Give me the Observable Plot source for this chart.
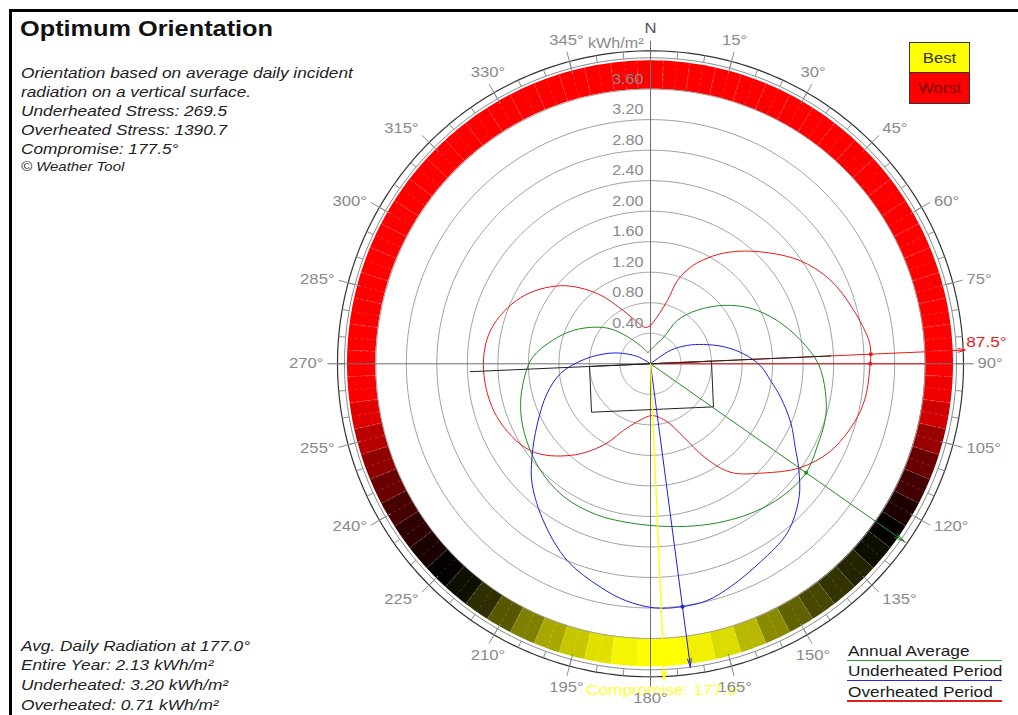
<!DOCTYPE html>
<html><head><meta charset="utf-8">
<script src="https://cdn.jsdelivr.net/npm/d3@7"></script>
<script src="https://cdn.jsdelivr.net/npm/@observablehq/plot@0.6"></script>
<style>
body{margin:0;background:#fff;font-family:"Liberation Sans",Arial,sans-serif;}
#wrap{position:relative;width:1018px;height:715px;overflow:hidden;background:#fff;}
#frame{position:absolute;left:9px;top:9px;width:1100px;height:800px;border:3px solid #000;box-sizing:border-box;}
#chart{position:absolute;left:0;top:0;}
.sx{position:absolute;transform:scaleX(1.15);transform-origin:0 0;white-space:nowrap;color:#222;}
.box{position:absolute;left:909px;width:61px;border:1px solid #333;box-sizing:border-box;text-align:center;font-size:14.5px;}
.box span{display:inline-block;transform:scaleX(1.15);}
.ul{position:absolute;left:847px;width:155px;height:1.5px;}
</style></head>
<body>
<div id="wrap">
  <div id="chart"></div>
  <div id="frame"></div>
  <div class="sx" id="title" style="left:20px;top:18px;font-size:22px;line-height:22px;font-weight:bold;color:#111;"></div>
  <div class="sx" id="desc" style="left:21px;top:62.6px;font-size:15px;line-height:19px;font-style:italic;"></div>
  <div class="sx" id="credit" style="left:21px;top:157px;font-size:13px;line-height:19px;font-style:italic;"></div>
  <div class="sx" id="avg" style="left:21px;top:635.6px;font-size:15px;line-height:19.7px;font-style:italic;"></div>
  <div class="box" id="best" style="top:41.7px;height:31.6px;line-height:30px;background:#ffff00;color:#333;"></div>
  <div class="box" id="worst" style="top:72.3px;height:31.5px;line-height:30px;background:#ff0000;color:#7a0000;"></div>
  <div id="legend"></div>
</div>
<script>
// ---------- data ----------
const titleText = "Optimum Orientation";
const descLines = ["Orientation based on average daily incident", "radiation on a vertical surface.", "Underheated Stress: 269.5", "Overheated Stress: 1390.7", "Compromise: 177.5°"];
const creditText = "© Weather Tool";
const avgLines = ["Avg. Daily Radiation at 177.0°", "Entire Year: 2.13 kWh/m²", "Underheated: 3.20 kWh/m²", "Overheated: 0.71 kWh/m²"];
const legendNames = ["Annual Average", "Underheated Period", "Overheated Period"];
const legendColors = ["#2f9a2f", "#2828d0", "#e02020"];
const scoreNames = ["Best", "Worst"];

const angleAz = [0, 15, 30, 45, 60, 75, 90, 105, 120, 135, 150, 165, 180, 195, 210, 225, 240, 255, 270, 285, 300, 315, 330, 345];
const angleLabels = ["N", "15°", "30°", "45°", "60°", "75°", "90°", "105°", "120°", "135°", "150°", "165°", "180°", "195°", "210°", "225°", "240°", "255°", "270°", "285°", "300°", "315°", "330°", "345°"];
const gridValues = [0.4, 0.8, 1.2, 1.6, 2.0, 2.4, 2.8, 3.2, 3.6];
const gridLabels = ["0.40", "0.80", "1.20", "1.60", "2.00", "2.40", "2.80", "3.20", "3.60"];
const unitLabel = "kWh/m²";

// overheated period (red), kWh/m² by azimuth
const overheatedAz = [0, 8, 15, 18, 22.5, 27, 33.5, 42.5, 55, 65, 75, 84, 87.5, 90, 99, 106, 116, 125, 134, 143.5, 150, 155.5, 164, 178, 193, 202, 210, 221, 234, 251, 268, 282, 297, 311, 323, 333, 344, 352];
const overheatedKwh = [0.50, 0.62, 0.86, 1.15, 1.37, 1.53, 1.74, 2.00, 2.37, 2.60, 2.75, 2.88, 2.89, 2.88, 2.85, 2.78, 2.62, 2.38, 2.06, 1.77, 1.41, 1.06, 0.79, 0.68, 0.78, 0.94, 1.23, 1.59, 1.94, 2.13, 2.19, 2.14, 1.91, 1.56, 1.15, 0.78, 0.55, 0.48];
// annual average (green)
const annualAz = [347, 18, 26.5, 31.7, 41, 51.5, 61, 71, 81, 90, 99, 107, 116.6, 125, 135, 145, 155, 165, 177, 190, 200, 213, 227, 242, 253, 264, 273, 283.5, 293.5, 303, 311, 319.5, 331];
const annualKwh = [0.15, 0.28, 0.39, 0.67, 0.93, 1.23, 1.50, 1.75, 1.99, 2.20, 2.32, 2.40, 2.44, 2.49, 2.45, 2.37, 2.28, 2.20, 2.13, 2.10, 2.10, 2.08, 2.00, 1.88, 1.78, 1.66, 1.55, 1.32, 1.10, 0.88, 0.70, 0.47, 0.27];
// underheated period (blue)
const underheatedAz = [0, 56, 63.5, 70, 77, 84, 91, 98, 104.4, 113, 120, 125.3, 132, 141, 151, 160, 166.5, 172.5, 179, 186, 192.6, 203, 214, 224.6, 231.7, 242, 254, 263.7, 271, 279, 288, 299];
const underheatedKwh = [0, 0.31, 0.54, 0.74, 0.99, 1.23, 1.44, 1.59, 1.76, 2.00, 2.19, 2.38, 2.62, 2.85, 2.97, 3.10, 3.19, 3.21, 3.20, 3.12, 3.00, 2.80, 2.50, 2.21, 1.98, 1.68, 1.41, 1.19, 0.96, 0.71, 0.46, 0.20];

// orientation score band (0 = worst, 1 = best), 5° steps from 0°
const bandAz = [0,5,10,15,20,25,30,35,40,45,50,55,60,65,70,75,80,85,90,95,100,105,110,115,120,125,130,135,140,145,150,155,160,165,170,175,180,185,190,195,200,205,210,215,220,225,230,235,240,245,250,255,260,265,270,275,280,285,290,295,300,305,310,315,320,325,330,335,340,345,350,355];
const bandScore = [0,0,0,0,0,0,0,0,0,0,0,0,0,0,0,0,0,0,0,0.03,0.09,0.20,0.29,0.37,0.44,0.49,0.53,0.57,0.60,0.64,0.69,0.77,0.86,0.93,0.97,1,1,0.98,0.94,0.89,0.83,0.75,0.67,0.59,0.53,0.49,0.45,0.41,0.36,0.29,0.22,0.14,0.06,0.01,0,0,0,0,0,0,0,0,0,0,0,0,0,0,0,0,0,0];

const bestOverheated = 87.5, bestOverheatedLabel = "87.5°";
const bestAnnual = 125;
const bestUnderheated = 172.5;
const compromiseAz = 177.5, compromiseLabel = "Compromise: 177.5°";
// building footprint (kWh-scale units along / across the compromise axis)
const buildingU = [-0.80, 0.80, 0.80, -0.80];
const buildingV = [0, 0, 0.60, 0.60];

// ---------- layout ----------
const W = 1018, H = 715, CX = 650, CY = 363.3, PX = 76.3;
const rad = d => d * Math.PI / 180;
const pol = (az, r) => ({x: r * Math.sin(rad(az)), y: r * Math.cos(rad(az))});
const R_BAND_IN = 3.6, R_BAND_OUT = 303 / PX, R_RING1 = 306 / PX, R_RING2 = 313 / PX, R_TICK_IN = 300 / PX, R_TICK_OUT = 323 / PX;
const LABEL_FS = 14.5, SX = 1.15;

// band polygons
const bandRows = [];
bandAz.forEach((az, i) => {
  for (let k = 0; k <= 5; k++) {
    const a = az - 2.5 + k;
    const pi = pol(a, R_BAND_IN), po = pol(a, R_BAND_OUT);
    bandRows.push({seg: i, score: bandScore[i], x1: pi.x, y1: pi.y, x2: po.x, y2: po.y});
  }
});
const sepRows = d3.range(0, 360, 2.5).map(a => { const p = pol(a, R_BAND_IN + 0.02), q = pol(a, R_BAND_OUT - 0.02); return {x1: p.x, y1: p.y, x2: q.x, y2: q.y}; });
const circleRows = rs => rs.flatMap(r => d3.range(0, 361, 1).map(a => ({r, ...pol(a, r)})));
const seg = (a, r1, r2) => { const p = pol(a, r1), q = pol(a, r2); return {x1: p.x, y1: p.y, x2: q.x, y2: q.y}; };
const curvePts = (az, v, close) => { const pts = az.map((a, i) => pol(a, v[i])); if (close) pts.push(pts[0]); return pts; };
const valAt = (az, v, a) => v[az.indexOf(a)];
const clamp01 = t => Math.max(0, Math.min(1, t));

// angle labels: text box touches a circle of radius 325px
const labelRows = angleAz.map((a, i) => {
  const s = Math.sin(rad(a)), c = Math.cos(rad(a));
  const lab = angleLabels[i];
  const w = lab === "N" ? 12 : ((lab.length - 1) * 0.556 + 0.4) * LABEL_FS * SX;
  const ex = Math.sign(s) * (w / 2 + 2) * clamp01((Math.abs(s) - 0.5) / 0.207);
  const ey = Math.sign(c) * 10 * clamp01((Math.abs(c) - 0.5) / 0.366);
  const p = pol(a, 325 / PX);
  return {label: lab, north: a === 0, x: p.x + ex / PX, y: p.y + ey / PX};
});
const gridLabelRows = gridValues.map((v, i) => ({x: 0, y: v, label: gridLabels[i]}));

const bRows = buildingU.map((u, i) => {
  const a = pol(compromiseAz - 90, u), b = pol(compromiseAz, buildingV[i]);
  return {x: a.x + b.x, y: a.y + b.y};
});
bRows.push(bRows[0]);

const arrow = (a, r) => { const p = pol(a, r); return {x1: 0, y1: 0, x2: p.x, y2: p.y}; };
const axisLine = (a, r) => { const p = pol(a + 180, r), q = pol(a, r); return {x1: p.x, y1: p.y, x2: q.x, y2: q.y}; };

const chart = Plot.plot({
  width: W, height: H, margin: 0,
  x: {domain: [-CX / PX, (W - CX) / PX], axis: null},
  y: {domain: [-(H - CY) / PX, CY / PX], axis: null},
  color: {type: "linear", domain: [0, 0.5, 1], range: ["#ff0000", "#000000", "#ffff00"], interpolate: "rgb"},
  style: {fontFamily: "Liberation Sans, Arial, sans-serif", background: "transparent"},
  marks: [
    Plot.area(bandRows, {x1: "x1", y1: "y1", x2: "x2", y2: "y2", z: "seg", fill: "score", curve: "linear"}),
    Plot.link(sepRows, {x1: "x1", y1: "y1", x2: "x2", y2: "y2", stroke: "#ffffff", strokeOpacity: 0.22, strokeDasharray: "3,3", strokeWidth: 0.8}),
    Plot.line(circleRows(gridValues), {x: "x", y: "y", z: "r", stroke: "#a0a0a0", strokeWidth: 1}),
    Plot.line(circleRows([R_RING1]), {x: "x", y: "y", z: "r", stroke: "#8a8a8a", strokeWidth: 1}),
    Plot.line(circleRows([R_RING2]), {x: "x", y: "y", z: "r", stroke: "#333", strokeWidth: 1.2}),
    Plot.link(d3.range(0, 360, 5).map(a => seg(a, R_RING1, R_RING2)), {x1: "x1", y1: "y1", x2: "x2", y2: "y2", stroke: "#8a8a8a", strokeWidth: 1}),
    Plot.link(angleAz.filter(a => a % 90 !== 0).map(a => seg(a, R_TICK_IN, R_TICK_OUT)), {x1: "x1", y1: "y1", x2: "x2", y2: "y2", stroke: "#8a8a8a", strokeWidth: 1}),
    Plot.link([0, 90, 180, 270].map(a => seg(a, 0, R_TICK_OUT)), {x1: "x1", y1: "y1", x2: "x2", y2: "y2", stroke: "#707070", strokeWidth: 1}),
    Plot.line(bRows, {x: "x", y: "y", stroke: "#222", strokeWidth: 1}),
    // curves
    Plot.line(curvePts(overheatedAz, overheatedKwh, true), {x: "x", y: "y", stroke: "#e81818", strokeWidth: 1, curve: "catmull-rom"}),
    Plot.line(curvePts(annualAz, annualKwh, true), {x: "x", y: "y", stroke: "#238a23", strokeWidth: 1, curve: "catmull-rom"}),
    Plot.line(curvePts(underheatedAz, underheatedKwh, true), {x: "x", y: "y", stroke: "#1f1fe0", strokeWidth: 1, curve: "catmull-rom"}),
    // orientation lines
    Plot.link([seg(90, 0, R_BAND_IN)], {x1: "x1", y1: "y1", x2: "x2", y2: "y2", stroke: "#e81818", strokeWidth: 1}),
    Plot.arrow([arrow(bestOverheated, 315 / PX)], {x1: "x1", y1: "y1", x2: "x2", y2: "y2", stroke: "#e81818", strokeWidth: 1, headLength: 11, headAngle: 30}),
    Plot.link([axisLine(bestOverheated, 2.37)], {x1: "x1", y1: "y1", x2: "x2", y2: "y2", stroke: "#222", strokeWidth: 1}),
    Plot.arrow([arrow(bestAnnual, 310 / PX)], {x1: "x1", y1: "y1", x2: "x2", y2: "y2", stroke: "#238a23", strokeWidth: 1, headLength: 16, headAngle: 25}),
    Plot.arrow([arrow(bestUnderheated, 306 / PX)], {x1: "x1", y1: "y1", x2: "x2", y2: "y2", stroke: "#1f1fe0", strokeWidth: 1, headLength: 13, headAngle: 25}),
    Plot.arrow([arrow(compromiseAz, 316 / PX)], {x1: "x1", y1: "y1", x2: "x2", y2: "y2", stroke: "#ffff00", strokeWidth: 1.3, headLength: 10, headAngle: 30}),
    Plot.dot([pol(bestOverheated, valAt(overheatedAz, overheatedKwh, bestOverheated)), pol(90, valAt(overheatedAz, overheatedKwh, 90))], {x: "x", y: "y", r: 2, fill: "#e81818"}),
    Plot.dot([pol(bestAnnual, valAt(annualAz, annualKwh, bestAnnual))], {x: "x", y: "y", r: 2, fill: "#238a23"}),
    Plot.dot([pol(bestUnderheated, valAt(underheatedAz, underheatedKwh, bestUnderheated))], {x: "x", y: "y", r: 2, fill: "#1f1fe0"}),
    // texts
    Plot.text([pol(compromiseAz, 326.7 / PX)], {x: "x", y: "y", text: () => compromiseLabel, fontSize: 15, fill: "#ffff33"}),
    Plot.text(gridLabelRows, {x: "x", y: "y", text: "label", textAnchor: "end", dx: -7, dy: -10, fontSize: 14, fill: "#8a8a8a"}),
    Plot.text([{x: 0, y: 320 / PX}], {x: "x", y: "y", text: () => unitLabel, textAnchor: "end", dx: -7, fontSize: 14, fill: "#8a8a8a"}),
    Plot.text(labelRows, {x: "x", y: "y", text: "label", fontSize: LABEL_FS, fill: d => d.north ? "#555" : "#8a8a8a"}),
    Plot.text([pol(bestOverheated, 315 / PX)], {x: "x", y: "y", text: () => bestOverheatedLabel, textAnchor: "start", dx: 1, dy: -8, fontSize: 15, fill: "#e81818"})
  ]
});
document.getElementById("chart").appendChild(chart);
chart.querySelectorAll("text").forEach(t => {
  const tr = t.getAttribute("transform");
  if (tr) t.setAttribute("transform", tr + ` scale(${SX},1)`);
});

// ---------- html texts ----------
document.getElementById("title").textContent = titleText;
document.getElementById("desc").innerHTML = descLines.join("<br>");
document.getElementById("credit").textContent = creditText;
document.getElementById("avg").innerHTML = avgLines.join("<br>");
document.getElementById("best").innerHTML = `<span>${scoreNames[0]}</span>`;
document.getElementById("worst").innerHTML = `<span>${scoreNames[1]}</span>`;
const leg = document.getElementById("legend");
legendNames.forEach((n, i) => {
  const base = 656 + i * 20.4;
  const t = document.createElement("div");
  t.className = "sx";
  t.style.cssText = `left:848px;top:${base - 15.2}px;font-size:15px;line-height:20px;color:#1a1a1a;`;
  t.textContent = n;
  leg.appendChild(t);
  const u = document.createElement("div");
  u.className = "ul";
  u.style.cssText = `top:${base + 3.5}px;background:${legendColors[i]};`;
  leg.appendChild(u);
});
</script>
</body></html>
